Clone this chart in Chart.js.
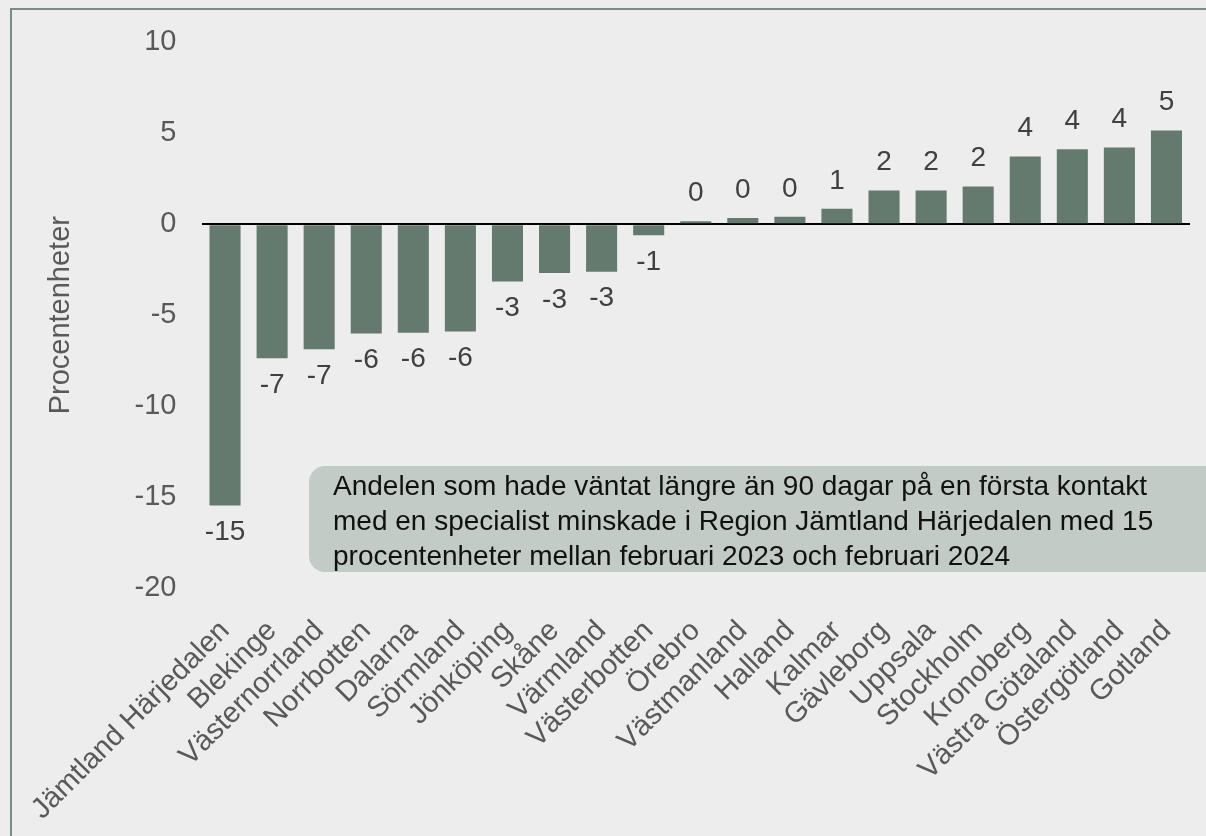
<!DOCTYPE html>
<html>
<head>
<meta charset="utf-8">
<script src="https://cdn.jsdelivr.net/npm/chart.js@4"></script>
<style>
  html, body { margin: 0; padding: 0; background: #ededed; }
  body { width: 1206px; height: 836px; position: relative; overflow: hidden; font-family: "Liberation Sans", Arial, sans-serif; }
  #frame { position: absolute; left: 10px; top: 8px; width: 1300px; height: 900px; border-left: 2px solid #768e84; border-top: 2px solid #768e84; }
  #myChart { position: absolute; left: 0; top: 0; }
  #note { position: absolute; left: 309px; top: 466px; width: 940px; height: 106px; box-sizing: border-box;
    background: #c2cbc5; border-radius: 16px; padding: 2px 0 0 24px;
    font-size: 28px; line-height: 35px; color: #111; }
</style>
</head>
<body>
<div id="frame"></div>
<canvas id="myChart" width="1206" height="836"></canvas>
<div id="note">Andelen som hade väntat längre än 90 dagar på en första kontakt<br>med en specialist minskade i Region Jämtland Härjedalen med 15<br>procentenheter mellan februari 2023 och februari 2024</div>
<script>
document.addEventListener("DOMContentLoaded", function (event) {
    // regions and change in percentage points (feb 2023 -> feb 2024)
    const regions = ['Jämtland Härjedalen', 'Blekinge', 'Västernorrland', 'Norrbotten', 'Dalarna',
        'Sörmland', 'Jönköping', 'Skåne', 'Värmland', 'Västerbotten', 'Örebro', 'Västmanland',
        'Halland', 'Kalmar', 'Gävleborg', 'Uppsala', 'Stockholm', 'Kronoberg', 'Västra Götaland',
        'Östergötland', 'Gotland'];
    const change = [-15.46, -7.37, -6.87, -6.0, -5.96, -5.9, -3.15, -2.68, -2.61, -0.6, 0.16, 0.34,
        0.41, 0.85, 1.85, 1.85, 2.08, 3.73, 4.13, 4.22, 5.15];
    const yTicks = [-20, -15, -10, -5, 0, 5, 10];

    const font = '"Liberation Sans", Arial, sans-serif';

    // draws rounded value under/over each bar
    const valueLabels = {
        id: 'valueLabels',
        afterDatasetsDraw(chart) {
            const ctx = chart.ctx;
            const meta = chart.getDatasetMeta(0);
            ctx.save();
            ctx.font = '28px ' + font;
            ctx.fillStyle = '#404040';
            ctx.textAlign = 'center';
            ctx.textBaseline = 'middle';
            meta.data.forEach(function (bar, i) {
                let v = chart.data.datasets[0].data[i];
                let txt = String(Math.round(v));
                let y = v < 0 ? bar.y + 27 : bar.y - 28;
                ctx.fillText(txt, bar.x, y);
            });
            ctx.restore();
        }
    };

    const data = {
        labels: regions,
        datasets: [{
            data: change,
            backgroundColor: '#647a6f',
            barPercentage: 0.66,
            categoryPercentage: 1
        }]
    };

    const config = {
        type: 'bar',
        data: data,
        plugins: [valueLabels],
        options: {
            responsive: false,
            animation: false,
            layout: { padding: { left: 40, right: 16, top: 22, bottom: 0 } },
            plugins: { legend: { display: false }, tooltip: { enabled: false } },
            scales: {
                x: {
                    grid: { display: false },
                    border: { display: false },
                    ticks: {
                        color: '#595959',
                        font: { family: font, size: 29 },
                        minRotation: 45,
                        maxRotation: 45,
                        padding: 18,
                        autoSkip: false
                    },
                    afterFit: function (scale) {
                        scale.height = 248;
                        scale.paddingLeft = 0;
                        scale.paddingRight = 0;
                    }
                },
                y: {
                    min: -20,
                    max: 10,
                    afterBuildTicks: function (scale) {
                        scale.ticks = yTicks.map(function (v) { return { value: v }; });
                    },
                    border: { display: false },
                    grid: {
                        drawTicks: false,
                        lineWidth: 2,
                        color: function (c) { return c.tick && c.tick.value === 0 ? '#000000' : 'rgba(0,0,0,0)'; }
                    },
                    ticks: {
                        color: '#595959',
                        font: { family: font, size: 29 },
                        padding: 25
                    },
                    title: {
                        display: true,
                        text: 'Procentenheter',
                        color: '#595959',
                        font: { family: font, size: 29 },
                        padding: { top: 4, bottom: 4 }
                    },
                    afterFit: function (scale) { scale.width = 161.5; }
                }
            }
        }
    };

    const myChart = new Chart(document.getElementById('myChart'), config);
});
</script>
</body>
</html>
